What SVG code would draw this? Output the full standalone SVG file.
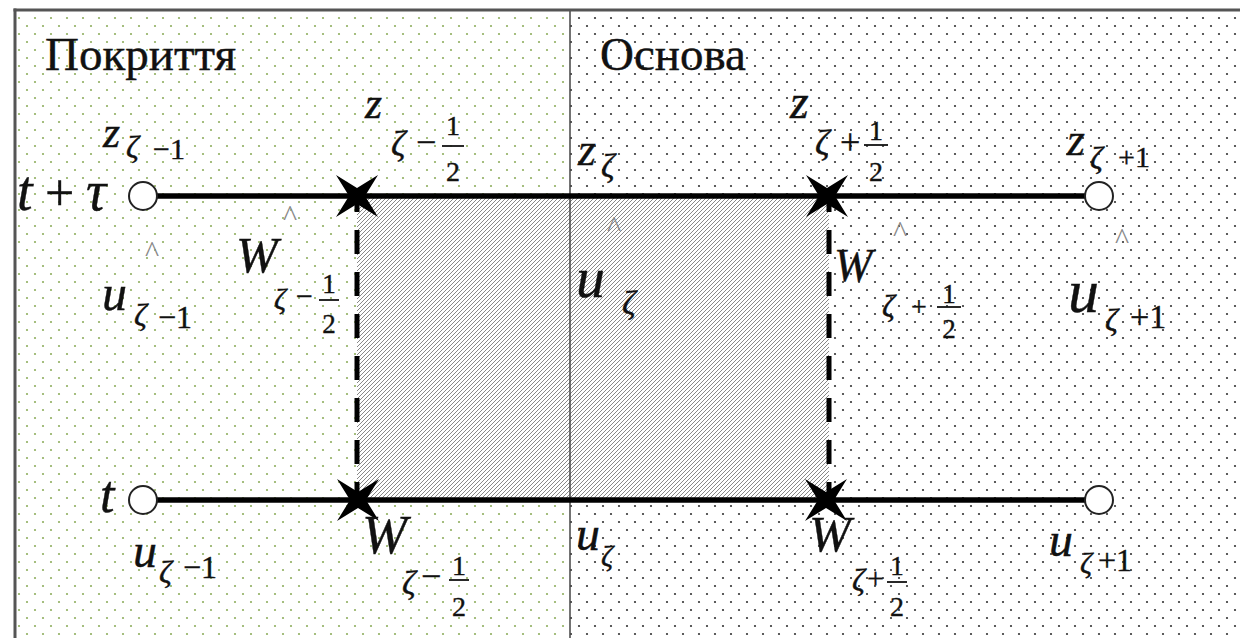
<svg xmlns="http://www.w3.org/2000/svg" xmlns:xlink="http://www.w3.org/1999/xlink" width="1240" height="638" viewBox="0 0 1240 638">
<style>
.t{font-family:"Liberation Serif","Times New Roman",serif;fill:#111;stroke:#111;stroke-width:0.4}
.i{font-style:italic}
.hat{font-family:"Liberation Serif","Times New Roman",serif;fill:#888;font-size:30px;text-anchor:middle}
.mid{text-anchor:middle}
.bar{stroke:#111;stroke-width:1.8}
.node{fill:#fff;stroke:#222;stroke-width:2}
.edge{stroke:#000;stroke-width:5.5;fill:none}
.dash{stroke:#000;stroke-width:5;fill:none;stroke-dasharray:24 18;stroke-dashoffset:8}
</style>
<defs>
<pattern id="dotG" width="16" height="16" patternUnits="userSpaceOnUse">
<circle cx="3" cy="2" r="1.1" fill="#8fae5f"/>
<circle cx="11" cy="10" r="1.1" fill="#8fae5f"/>
</pattern>
<pattern id="dotK" width="16" height="16" patternUnits="userSpaceOnUse">
<circle cx="3" cy="2" r="1.1" fill="#333"/>
<circle cx="11" cy="10" r="1.1" fill="#333"/>
</pattern>
<pattern id="hatch" width="4" height="4" patternUnits="userSpaceOnUse">
<path d="M-1,1 L1,-1 M0,4 L4,0 M3,5 L5,3" stroke="#888" stroke-width="1"/>
</pattern>
<path id="star" d="M-21,-21 L0,-8 L21,-21 L8,0 L21,21 L0,8 L-21,21 L-8,0 Z" fill="#000"/>
</defs>

<g id="background">
<rect x="0" y="0" width="1240" height="638" fill="#fff"/>
<rect x="15" y="10" width="555" height="628" fill="url(#dotG)"/>
<rect x="570" y="10" width="670" height="628" fill="url(#dotK)"/>
<rect x="357" y="196" width="472" height="304" fill="#fff"/>
<rect x="357" y="196" width="472" height="304" fill="url(#hatch)"/>
<line x1="570" y1="10" x2="570" y2="638" stroke="#444" stroke-width="1.5"/>
<line x1="15" y1="8.5" x2="15" y2="638" stroke="#555" stroke-width="3"/>
<line x1="13.5" y1="10" x2="1240" y2="10" stroke="#555" stroke-width="3"/>
</g>

<g id="regions">
<text class="t" x="45" y="70" font-size="47">Покриття</text>
<text class="t" x="600" y="70" font-size="47">Основа</text>
</g>

<g id="connectors">
<line class="edge" x1="143" y1="196" x2="1099" y2="196"/>
<line class="edge" x1="143" y1="500" x2="1099" y2="500"/>
<line class="dash" x1="357" y1="196" x2="357" y2="500"/>
<line class="dash" x1="829" y1="196" x2="829" y2="500"/>
</g>

<g id="time-labels">
<text class="t i" x="17" y="210" font-size="56">t</text>
<text class="t" x="45" y="210" font-size="52">+</text>
<text class="t i" x="86" y="210" font-size="56">τ</text>
<text class="t i" x="100" y="512" font-size="52">t</text>
</g>

<g id="node-z-1">
<circle class="node" cx="143" cy="196" r="14"/>
<text class="t i" x="103" y="147" font-size="44">z</text>
<text class="t i" x="126" y="158" font-size="32">ζ</text>
<text class="t" x="153" y="159" font-size="30">−1</text>
<text class="hat" x="152" y="262">^</text>
<text class="t i" x="102" y="310" font-size="50">u</text>
<text class="t i" x="134" y="326" font-size="32">ζ</text>
<text class="t" x="158" y="328" font-size="32">−1</text>
</g>

<g id="node-z-half-minus">
<use xlink:href="#star" x="357" y="196"/>
<text class="t i" x="365" y="118" font-size="44">z</text>
<text class="t i" x="391" y="156" font-size="36">ζ</text>
<text class="t" x="416" y="154" font-size="36">−</text>
<text class="t mid" x="453" y="135" font-size="28">1</text>
<line class="bar" x1="442" y1="146" x2="464" y2="146"/>
<text class="t mid" x="453" y="181" font-size="28">2</text>
<text class="hat" x="290" y="226">^</text>
<text class="t i" x="236" y="272" font-size="50">W</text>
<text class="t i" x="274" y="309" font-size="30">ζ</text>
<text class="t" x="296" y="306" font-size="30">−</text>
<text class="t mid" x="329" y="293" font-size="27">1</text>
<line class="bar" x1="319" y1="300" x2="339" y2="300"/>
<text class="t mid" x="329" y="333" font-size="27">2</text>
</g>

<g id="node-z">
<text class="t i" x="578" y="165" font-size="46">z</text>
<text class="t i" x="601" y="177" font-size="34">ζ</text>
<text class="hat" x="614" y="237">^</text>
<text class="t i" x="576" y="297" font-size="58">u</text>
<text class="t i" x="622" y="314" font-size="34">ζ</text>
</g>

<g id="node-z-half-plus">
<use xlink:href="#star" x="827" y="196"/>
<text class="t i" x="790" y="118" font-size="48">z</text>
<text class="t i" x="815" y="155" font-size="36">ζ</text>
<text class="t" x="840" y="154" font-size="36">+</text>
<text class="t mid" x="876" y="140" font-size="28">1</text>
<line class="bar" x1="864" y1="145" x2="888" y2="145"/>
<text class="t mid" x="876" y="181" font-size="28">2</text>
<text class="hat" x="900" y="242">^</text>
<text class="t i" x="834" y="281" font-size="46">W</text>
<text class="t i" x="882" y="317" font-size="32">ζ</text>
<text class="t" x="911" y="316" font-size="28">+</text>
<text class="t mid" x="949" y="303" font-size="27">1</text>
<line class="bar" x1="937" y1="307" x2="961" y2="307"/>
<text class="t mid" x="949" y="338" font-size="27">2</text>
</g>

<g id="node-z+1">
<circle class="node" cx="1099" cy="196" r="14"/>
<text class="t i" x="1067" y="155" font-size="46">z</text>
<text class="t i" x="1090" y="169" font-size="32">ζ</text>
<text class="t" x="1118" y="167" font-size="30">+1</text>
<text class="hat" x="1122" y="249">^</text>
<text class="t i" x="1068" y="312" font-size="62">u</text>
<text class="t i" x="1105" y="331" font-size="32">ζ</text>
<text class="t" x="1130" y="328" font-size="34">+1</text>
</g>

<g id="node-u-1">
<circle class="node" cx="143" cy="500" r="14"/>
<text class="t i" x="133" y="567" font-size="48">u</text>
<text class="t i" x="159" y="583" font-size="32">ζ</text>
<text class="t" x="183" y="578" font-size="32">−1</text>
</g>

<g id="node-w-minus">
<use xlink:href="#star" x="358" y="500"/>
<text class="t i" x="362" y="553" font-size="54">W</text>
<text class="t i" x="402" y="594" font-size="34">ζ</text>
<text class="t" x="421" y="588" font-size="36">−</text>
<text class="t mid" x="459" y="575" font-size="28">1</text>
<line class="bar" x1="449" y1="580" x2="469" y2="580"/>
<text class="t mid" x="459" y="616" font-size="28">2</text>
</g>

<g id="node-u">
<text class="t i" x="576" y="550" font-size="48">u</text>
<text class="t i" x="601" y="566" font-size="30">ζ</text>
</g>

<g id="node-w-plus">
<use xlink:href="#star" x="826" y="500"/>
<text class="t i" x="809" y="551" font-size="50">W</text>
<text class="t i" x="852" y="591" font-size="32">ζ</text>
<text class="t" x="867" y="588" font-size="30">+</text>
<text class="t mid" x="897" y="575" font-size="27">1</text>
<line class="bar" x1="887" y1="582" x2="907" y2="582"/>
<text class="t mid" x="897" y="616" font-size="28">2</text>
</g>

<g id="node-u+1">
<circle class="node" cx="1099" cy="500" r="14"/>
<text class="t i" x="1049" y="556" font-size="48">u</text>
<text class="t i" x="1080" y="573" font-size="30">ζ</text>
<text class="t" x="1098" y="571" font-size="32">+1</text>
</g>
</svg>
